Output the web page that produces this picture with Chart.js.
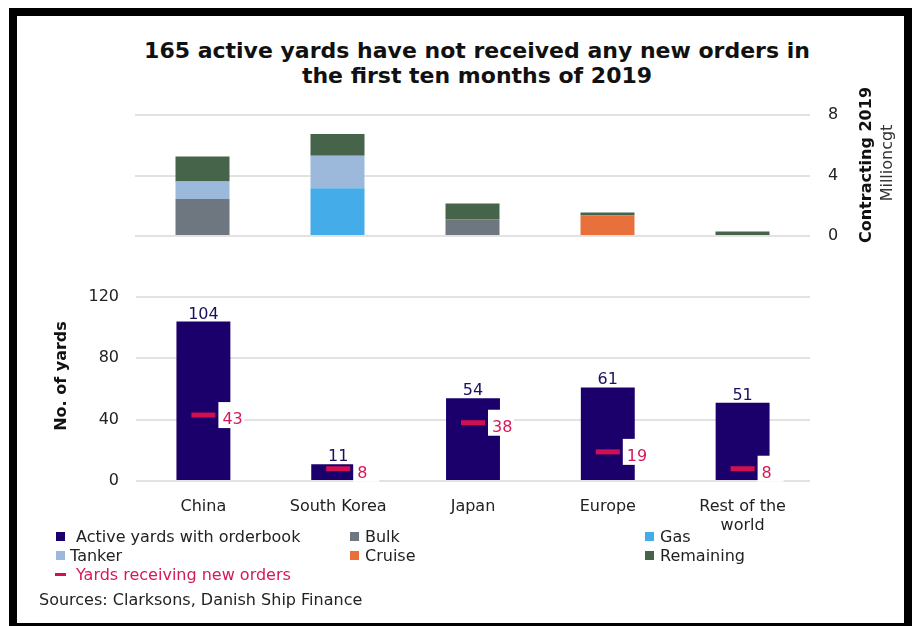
<!DOCTYPE html>
<html>
<head>
<meta charset="utf-8">
<title>Active yards without new orders, 2019</title>
<script src="https://cdn.jsdelivr.net/npm/chart.js@4.4.0/dist/chart.umd.min.js"></script>
<style>
  html, body { margin: 0; padding: 0; background: #fff; }
  body { width: 912px; height: 626px; position: relative; overflow: hidden;
         font-family: "DejaVu Sans", Verdana, sans-serif; color: #222; }
  #frame { position: absolute; left: 9px; top: 8px; width: 903px; height: 623px;
           border: 8px solid #000; box-sizing: border-box; }
  canvas { position: absolute; left: 0; top: 0; }
  #title { position: absolute; left: 42px; top: 38px; width: 870px; text-align: center;
           font-weight: bold; font-size: 22px; line-height: 25px; color: #111; }
  .lg { position: absolute; font-size: 16px; line-height: 20px; height: 20px; white-space: nowrap; }
  .sw { position: absolute; width: 9px; height: 9px; }
</style>
</head>
<body>
<div id="frame"></div>
<div id="title">165 active yards have not received any new orders in<br>the first ten months of 2019</div>
<canvas id="topChart" width="912" height="626"></canvas>
<canvas id="bottomChart" width="912" height="626"></canvas>
<div id="legend"></div>

<script>
// --- Data ---
const categories = ['China', 'South Korea', 'Japan', 'Europe', ['Rest of the', 'world']];

// Number of yards
const activeYards = [104, 11, 54, 61, 51];
const newOrderYards = [43, 8, 38, 19, 8];

// Contracting 2019, million cgt
const bulk      = [2.45, 0, 1.1, 0, 0];
const gas       = [0, 3.15, 0, 0, 0];
const cruise    = [0, 0, 0, 1.35, 0];
const tanker    = [1.15, 2.15, 0, 0, 0];
const remaining = [1.65, 1.45, 1.05, 0.2, 0.3];

const yardTicks = [0, 40, 80, 120];
const cgtTicks = [0, 4, 8];

// --- Colours ---
const NAVY = '#1b006b';
const RED = '#d20f50';
const COLORS = {
  Bulk: '#6e767f',
  Tanker: '#9cb9dc',
  Gas: '#45acea',
  Cruise: '#e8703a',
  Remaining: '#46644a'
};
const TEXT = '#222';
const GRID = '#e2e2e2';

Chart.defaults.font.family = '"DejaVu Sans", Verdana, sans-serif';
Chart.defaults.font.size = 16;
Chart.defaults.color = TEXT;

// --- Top: contracting stacked bars ---
const rightTitles = {
  id: 'rightTitles',
  afterDraw(chart) {
    const ctx = chart.ctx;
    ctx.save();
    ctx.fillStyle = '#111';
    ctx.textAlign = 'center';
    ctx.textBaseline = 'middle';
    ctx.translate(867, 165);
    ctx.rotate(-Math.PI / 2);
    ctx.font = 'bold 16px "DejaVu Sans"';
    ctx.fillText('Contracting 2019', 0, 0);
    ctx.restore();

    ctx.save();
    ctx.fillStyle = '#333';
    ctx.textAlign = 'center';
    ctx.textBaseline = 'middle';
    ctx.translate(888, 163);
    ctx.rotate(-Math.PI / 2);
    ctx.font = '16px "DejaVu Sans"';
    ctx.fillText('Millioncgt', 0, 0);
    ctx.restore();
  }
};

const stackSeries = [
  ['Bulk', bulk], ['Gas', gas], ['Cruise', cruise], ['Tanker', tanker], ['Remaining', remaining]
];

new Chart(document.getElementById('topChart'), {
  type: 'bar',
  data: {
    labels: categories,
    datasets: stackSeries.map(([name, values]) => ({
      label: name,
      data: values,
      backgroundColor: COLORS[name],
      borderWidth: 0,
      categoryPercentage: 1,
      barPercentage: 0.4,
      stack: 'cgt'
    }))
  },
  options: {
    responsive: false,
    animation: false,
    layout: { padding: { left: 135, top: 115, right: 42, bottom: 390 } },
    plugins: { legend: { display: false }, tooltip: { enabled: false } },
    scales: {
      x: { display: false, stacked: true },
      y: {
        stacked: true,
        position: 'right',
        min: 0,
        max: 8,
        afterBuildTicks: s => { s.ticks = cgtTicks.map(v => ({ value: v })); },
        afterFit: s => { s.width = 60; },
        grid: { color: GRID, lineWidth: 2, drawTicks: false },
        border: { display: false },
        ticks: { padding: 18, color: TEXT, font: { size: 16 } }
      }
    }
  },
  plugins: [rightTitles]
});

// --- Bottom: yards bars with new-order markers ---
const yardLabels = {
  id: 'yardLabels',
  afterDatasetsDraw(chart) {
    const ctx = chart.ctx;
    const bars = chart.getDatasetMeta(0).data;
    const marks = chart.getDatasetMeta(1).data;
    ctx.save();
    ctx.font = '16px "DejaVu Sans"';
    ctx.textAlign = 'center';
    ctx.textBaseline = 'alphabetic';
    ctx.fillStyle = '#1a1060';
    bars.forEach((b, i) => ctx.fillText(activeYards[i], b.x, b.y - 3));

    marks.forEach((p, i) => {
      ctx.fillStyle = '#fff';
      ctx.fillRect(p.x + 15, p.y - 13, 26, 26);
      ctx.fillStyle = '#d6185a';
      ctx.textAlign = 'left';
      ctx.fillText(newOrderYards[i], p.x + 19, p.y + 9);
    });

    // left axis title
    ctx.translate(62, 376);
    ctx.rotate(-Math.PI / 2);
    ctx.textAlign = 'center';
    ctx.textBaseline = 'middle';
    ctx.fillStyle = '#111';
    ctx.font = 'bold 16px "DejaVu Sans"';
    ctx.fillText('No. of yards', 0, 0);
    ctx.restore();
  }
};

new Chart(document.getElementById('bottomChart'), {
  type: 'bar',
  data: {
    labels: categories,
    datasets: [
      {
        label: 'Active yards with orderbook',
        data: activeYards,
        backgroundColor: NAVY,
        borderWidth: 0,
        categoryPercentage: 1,
        barPercentage: 0.4,
        order: 2
      },
      {
        type: 'line',
        label: 'Yards receiving new orders',
        data: newOrderYards,
        showLine: false,
        pointStyle: 'line',
        pointRadius: 12,
        pointBorderWidth: 5,
        pointBorderColor: RED,
        pointBackgroundColor: RED,
        order: 1
      }
    ]
  },
  options: {
    responsive: false,
    animation: false,
    layout: { padding: { left: 0, top: 297, right: 102, bottom: 85 } },
    plugins: { legend: { display: false }, tooltip: { enabled: false } },
    scales: {
      x: {
        afterFit: s => { s.height = 60; },
        grid: { display: false },
        border: { display: false },
        ticks: { padding: 8, color: TEXT, font: { size: 16 }, maxRotation: 0, autoSkip: false }
      },
      y: {
        min: 0,
        max: 120,
        afterBuildTicks: s => { s.ticks = yardTicks.map(v => ({ value: v })); },
        afterFit: s => { s.width = 136; },
        grid: { color: GRID, lineWidth: 2, drawTicks: false },
        border: { display: false },
        ticks: { padding: 17, color: TEXT, font: { size: 16 } }
      }
    }
  },
  plugins: [yardLabels]
});

// --- Legend (HTML) ---
const legendItems = [
  { kind: 'box', color: NAVY, label: 'Active yards with orderbook', sx: 56, tx: 76, cy: 537 },
  { kind: 'box', color: COLORS.Bulk, label: 'Bulk', sx: 350, tx: 365, cy: 537 },
  { kind: 'box', color: COLORS.Gas, label: 'Gas', sx: 645, tx: 660, cy: 537 },
  { kind: 'box', color: COLORS.Tanker, label: 'Tanker', sx: 56, tx: 70, cy: 556 },
  { kind: 'box', color: COLORS.Cruise, label: 'Cruise', sx: 350, tx: 365, cy: 556 },
  { kind: 'box', color: COLORS.Remaining, label: 'Remaining', sx: 645, tx: 660, cy: 556 },
  { kind: 'dash', color: RED, label: 'Yards receiving new orders', sx: 55, tx: 76, cy: 575 }
];

const legend = document.getElementById('legend');
legendItems.forEach(item => {
  const sw = document.createElement('div');
  sw.className = 'sw';
  sw.style.background = item.color;
  sw.style.left = item.sx + 'px';
  if (item.kind === 'dash') {
    sw.style.width = '11px';
    sw.style.height = '3px';
    sw.style.top = (item.cy - 2) + 'px';
  } else {
    sw.style.top = (item.cy - 5) + 'px';
  }
  legend.appendChild(sw);

  const tx = document.createElement('div');
  tx.className = 'lg';
  tx.textContent = item.label;
  tx.style.left = item.tx + 'px';
  tx.style.top = (item.cy - 10) + 'px';
  if (item.kind === 'dash') tx.style.color = '#d6185a';
  legend.appendChild(tx);
});

const src = document.createElement('div');
src.className = 'lg';
src.textContent = 'Sources: Clarksons, Danish Ship Finance';
src.style.left = '39px';
src.style.top = '590px';
legend.appendChild(src);
</script>
</body>
</html>
